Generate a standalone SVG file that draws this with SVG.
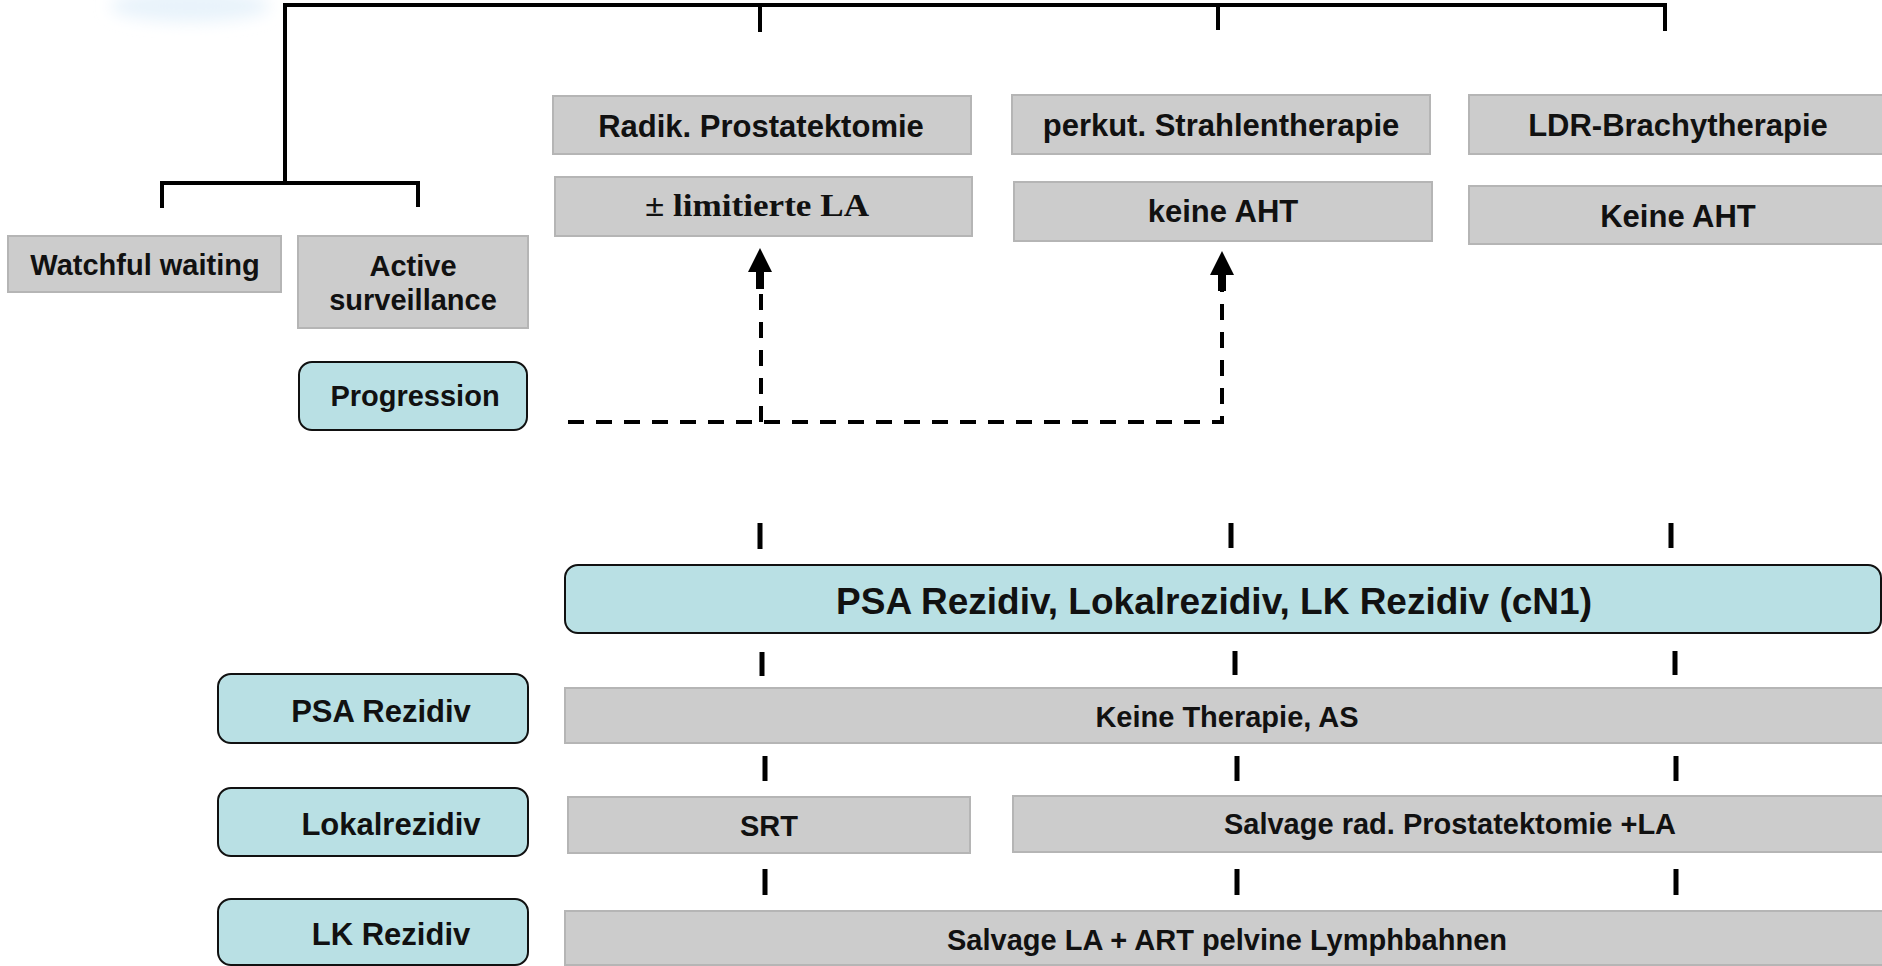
<svg xmlns="http://www.w3.org/2000/svg" width="1882" height="966" viewBox="0 0 1882 966">
<style>
.g{fill:#cccccc;stroke:#b5b5b5;stroke-width:2}
.b{fill:#b9e0e4;stroke:#111;stroke-width:2}
.t{font-family:"Liberation Sans",Arial,sans-serif;font-weight:bold;fill:#111;text-anchor:middle}
.s{font-size:29px}
.m{font-size:31px}
.l{font-size:37px}
.ln{fill:none;stroke:#000;stroke-width:4}
.tk{fill:none;stroke:#000;stroke-width:5}
.d{fill:none;stroke:#000;stroke-width:4;stroke-dasharray:16 12}
</style>
<defs>
<filter id="blur" x="-50%" y="-50%" width="200%" height="200%"><feGaussianBlur stdDeviation="8"/></filter>
<marker id="ah" markerUnits="userSpaceOnUse" markerWidth="24" markerHeight="24" viewBox="0 0 24 24" refX="0" refY="12" orient="auto"><path d="M0,0 L24,12 L0,24 z" fill="#000"/></marker>
</defs>
<rect width="1882" height="966" fill="#fff"/>
<ellipse cx="190" cy="6" rx="80" ry="16" fill="#e8f3fb" filter="url(#blur)"/>

<g id="connectors">
<path class="ln" d="M285,183 V5 H1665 V31 M760,5 V32 M1218,5 V30 M162,208 V183 H418 V207"/>
<path class="d" d="M568,422 H1222 V291"/>
<path class="d" d="M761,422 V289"/>
<path d="M760,289 V272" stroke="#000" stroke-width="8" marker-end="url(#ah)"/>
<path d="M1222,291 V275" stroke="#000" stroke-width="8" marker-end="url(#ah)"/>
<path class="tk" d="M760,523 V549 M1231,523 V548 M1671,523 V548 M762,652 V676 M1235,651 V675 M1675,651 V675 M765,756 V781 M1237,756 V781 M1676,756 V781 M765,869 V895 M1237,869 V895 M1676,869 V895"/>
</g>

<g id="watchful"><rect class="g" x="8" y="236" width="273" height="56"/><text class="t s" x="145" y="275">Watchful waiting</text></g>
<g id="active"><rect class="g" x="298" y="236" width="230" height="92"/><text class="t s" x="413" y="276">Active</text><text class="t s" x="413" y="310">surveillance</text></g>
<g id="progression"><rect class="b" x="299" y="362" width="228" height="68" rx="13"/><text class="t s" x="415" y="406">Progression</text></g>

<g id="radik"><rect class="g" x="553" y="96" width="418" height="58"/><text class="t m" x="761" y="137">Radik. Prostatektomie</text></g>
<g id="limitierte"><rect class="g" x="555" y="177" width="417" height="59"/><text x="757" y="216" font-family="Liberation Serif,'Times New Roman',serif" font-weight="bold" font-size="32" fill="#111" text-anchor="middle" textLength="224" lengthAdjust="spacingAndGlyphs">± limitierte LA</text></g>
<g id="perkut"><rect class="g" x="1012" y="95" width="418" height="59"/><text class="t m" x="1221" y="136">perkut. Strahlentherapie</text></g>
<g id="keineaht1"><rect class="g" x="1014" y="182" width="418" height="59"/><text class="t m" x="1223" y="222">keine AHT</text></g>
<g id="ldr"><rect class="g" x="1469" y="95" width="420" height="59"/><text class="t m" x="1678" y="136">LDR-Brachytherapie</text></g>
<g id="keineaht2"><rect class="g" x="1469" y="186" width="420" height="58"/><text class="t m" x="1678" y="227">Keine AHT</text></g>

<g id="rezidiv"><rect class="b" x="565" y="565" width="1316" height="68" rx="13"/><text class="t l" x="1214" y="614">PSA Rezidiv, Lokalrezidiv, LK Rezidiv (cN1)</text></g>
<g id="psa"><rect class="b" x="218" y="674" width="310" height="69" rx="13"/><text class="t m" x="381" y="722">PSA Rezidiv</text></g>
<g id="keinetherapie"><rect class="g" x="565" y="688" width="1325" height="55"/><text class="t s" x="1227" y="727">Keine Therapie, AS</text></g>
<g id="lokal"><rect class="b" x="218" y="788" width="310" height="68" rx="13"/><text class="t m" x="391" y="835">Lokalrezidiv</text></g>
<g id="srt"><rect class="g" x="568" y="797" width="402" height="56"/><text class="t s" x="769" y="836">SRT</text></g>
<g id="salvagerad"><rect class="g" x="1013" y="796" width="877" height="56"/><text class="t s" x="1450" y="834">Salvage rad. Prostatektomie +LA</text></g>
<g id="lk"><rect class="b" x="218" y="899" width="310" height="66" rx="13"/><text class="t m" x="391" y="945">LK Rezidiv</text></g>
<g id="salvagela"><rect class="g" x="565" y="911" width="1325" height="54"/><text class="t s" x="1227" y="950">Salvage LA + ART pelvine Lymphbahnen</text></g>
</svg>
